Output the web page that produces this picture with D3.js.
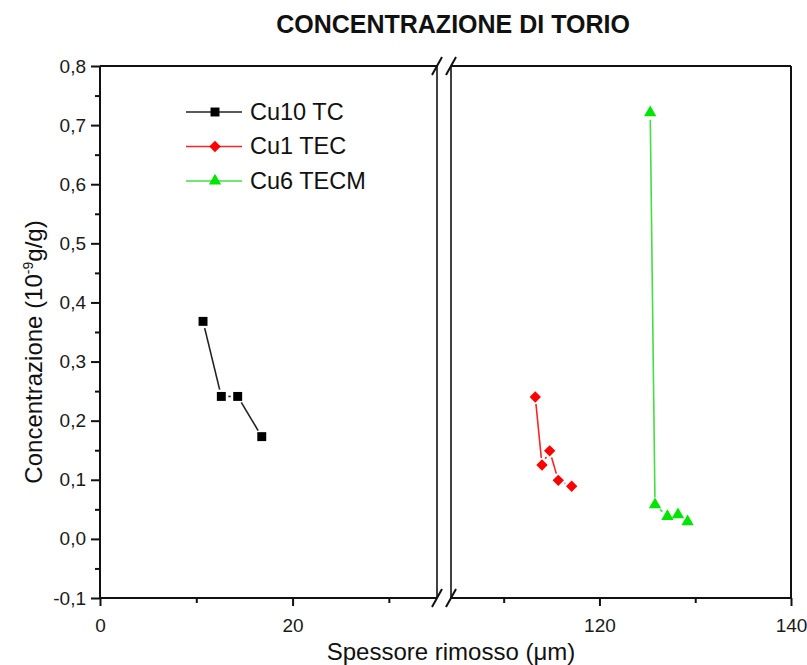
<!DOCTYPE html>
<html>
<head>
<meta charset="utf-8">
<script src="https://cdn.jsdelivr.net/npm/d3@7"></script>
<style>
  html, body { margin: 0; padding: 0; background: #fff; }
  svg { display: block; font-family: "Liberation Sans", Arial, sans-serif; }
</style>
</head>
<body>
<div id="chart"></div>
<script>
// Series values (x in µm removed, y in 10^-9 g/g)
const cu10X = [10.7, 12.6, 14.3, 16.8];
const cu10Y = [0.368, 0.241, 0.241, 0.173];
const cu1X = [113.3, 114.0, 114.8, 115.7, 117.1];
const cu1Y = [0.240, 0.125, 0.149, 0.099, 0.089];
const cu6X = [125.3, 125.8, 127.1, 128.2, 129.2];
const cu6Y = [0.721, 0.058, 0.038, 0.041, 0.029];

const seriesNames = ["Cu10 TC", "Cu1 TEC", "Cu6 TECM"];

// Axis ticks
const yMajor = [-0.1, 0.0, 0.1, 0.2, 0.3, 0.4, 0.5, 0.6, 0.7, 0.8];
const yMinor = [-0.05, 0.05, 0.15, 0.25, 0.35, 0.45, 0.55, 0.65, 0.75];
const xMajorLeft = [0, 20];
const xMinorLeft = [10, 30];
const xMajorRight = [120, 140];
const xMinorRight = [110, 130];

const W = 807, H = 665;
const plotTop = 66, plotBottom = 598;

const svg = d3.select("#chart").append("svg")
    .attr("width", W)
    .attr("height", H);

// Broken x axis: two linear pieces
const xLeft = d3.scaleLinear().domain([0, 35]).range([100, 437]);
const xRight = d3.scaleLinear().domain([104.5, 140]).range([451, 791]);
const xPos = v => (v <= 35 ? xLeft(v) : xRight(v));

const y = d3.scaleLinear().domain([-0.1, 0.8]).range([plotBottom, plotTop]);

const itFormat = d3.formatLocale({
    decimal: ",", thousands: ".", grouping: [3], currency: ["", ""], minus: "-"
}).format(".1f");

// Y axis (left)
svg.append("g")
    .attr("transform", `translate(${xLeft(0)},0)`)
    .call(d3.axisLeft(y).tickValues(yMajor).tickSize(9).tickPadding(5).tickFormat(itFormat));
svg.append("g")
    .attr("transform", `translate(${xLeft(0)},0)`)
    .call(d3.axisLeft(y).tickValues(yMinor).tickSize(5).tickFormat(""));

// X axis (bottom), both pieces
function bottomAxis(scale, major, minor) {
    svg.append("g")
        .attr("transform", `translate(0,${plotBottom})`)
        .call(d3.axisBottom(scale).tickValues(major).tickSize(8).tickPadding(13).tickFormat(d3.format("d")));
    svg.append("g")
        .attr("transform", `translate(0,${plotBottom})`)
        .call(d3.axisBottom(scale).tickValues(minor).tickSize(5).tickFormat(""));
}
bottomAxis(xLeft, xMajorLeft, xMinorLeft);
bottomAxis(xRight, xMajorRight, xMinorRight);

svg.selectAll(".domain").remove();
svg.selectAll(".tick line").attr("stroke", "#111").attr("stroke-width", 2);
svg.selectAll(".tick text")
    .attr("fill", "#1a1a1a")
    .style("font-size", "19px")
    .style("font-family", "'Liberation Sans', Arial, sans-serif");

// Frame with the break
const frame = svg.append("g")
    .attr("stroke", "#111")
    .attr("stroke-width", 2)
    .attr("fill", "none");
const xl0 = xLeft(0), xl1 = xLeft(35), xr0 = xRight(104.5), xr1 = xRight(140);
[[xl0, xl1], [xr0, xr1]].forEach(([a, b]) => {
    frame.append("line").attr("x1", a).attr("x2", b).attr("y1", plotTop).attr("y2", plotTop);
    frame.append("line").attr("x1", a).attr("x2", b).attr("y1", plotBottom).attr("y2", plotBottom);
});
[xl0, xl1, xr0, xr1].forEach(x => {
    frame.append("line").attr("x1", x).attr("x2", x).attr("y1", plotTop).attr("y2", plotBottom)
        .attr("stroke-width", x === xl1 || x === xr0 ? 1.6 : 2);
});
// break slashes
[xl1, xr0].forEach(x => {
    [plotTop, plotBottom].forEach(yy => {
        frame.append("line")
            .attr("x1", x - 5).attr("y1", yy + 9)
            .attr("x2", x + 5).attr("y2", yy - 9)
            .attr("stroke-width", 2);
    });
});

// Series
const series = [
    { name: seriesNames[0], xs: cu10X, ys: cu10Y, color: "#000", line: "#222", shape: d3.symbolSquare, size: 80 },
    { name: seriesNames[1], xs: cu1X, ys: cu1Y, color: "#f00", line: "#f22", shape: d3.symbolDiamond2, size: 82 },
    { name: seriesNames[2], xs: cu6X, ys: cu6Y, color: "#00e600", line: "#44dd44", shape: d3.symbolTriangle, size: 66 }
];

// line segments leave a small gap around each marker
function gappedSegments(pts, gap) {
    const segs = [];
    for (let i = 0; i < pts.length - 1; i++) {
        const [x1, y1] = pts[i], [x2, y2] = pts[i + 1];
        const dx = x2 - x1, dy = y2 - y1, len = Math.hypot(dx, dy);
        if (len <= 2 * gap) continue;
        const ux = dx / len, uy = dy / len;
        segs.push([x1 + ux * gap, y1 + uy * gap, x2 - ux * gap, y2 - uy * gap]);
    }
    return segs;
}

series.forEach(s => {
    const pts = s.xs.map((v, i) => [xPos(v), y(s.ys[i])]);
    svg.append("g").selectAll("line")
        .data(gappedSegments(pts, 7))
        .join("line")
        .attr("x1", d => d[0]).attr("y1", d => d[1])
        .attr("x2", d => d[2]).attr("y2", d => d[3])
        .attr("stroke", s.line)
        .attr("stroke-width", 1.6);
    svg.append("g").selectAll("path")
        .data(pts)
        .join("path")
        .attr("transform", d => `translate(${d[0]},${d[1]})`)
        .attr("d", d3.symbol().type(s.shape).size(s.size))
        .attr("fill", s.color);
});

// Legend
const legend = svg.append("g").attr("transform", "translate(186,112)");
series.forEach((s, i) => {
    const row = legend.append("g").attr("transform", `translate(0,${i * 34.5})`);
    row.append("line").attr("x1", 0).attr("x2", 56).attr("y1", 0).attr("y2", 0)
        .attr("stroke", s.line).attr("stroke-width", 1.5);
    row.append("path").attr("transform", "translate(29,0)")
        .attr("d", d3.symbol().type(s.shape).size(s.size)).attr("fill", s.color);
    row.append("text").attr("x", 64).attr("y", 7.5)
        .style("font-size", "23.5px").attr("fill", "#111").text(s.name);
});

// Title
svg.append("text")
    .attr("x", 453).attr("y", 33)
    .attr("text-anchor", "middle")
    .style("font-size", "25px").style("font-weight", "bold")
    .attr("fill", "#111")
    .text("CONCENTRAZIONE DI TORIO");

// Axis titles
svg.append("text")
    .attr("x", 451).attr("y", 660)
    .attr("text-anchor", "middle")
    .style("font-size", "24px").attr("fill", "#111")
    .text("Spessore rimosso (\u03bcm)");

const yTitle = svg.append("text")
    .attr("transform", "translate(42,352) rotate(-90)")
    .attr("text-anchor", "middle")
    .style("font-size", "24px").attr("fill", "#111");
yTitle.append("tspan").text("Concentrazione (10");
yTitle.append("tspan").attr("dy", -9).style("font-size", "14px").text("-9");
yTitle.append("tspan").attr("dy", 9).text("g/g)");
</script>
</body>
</html>
